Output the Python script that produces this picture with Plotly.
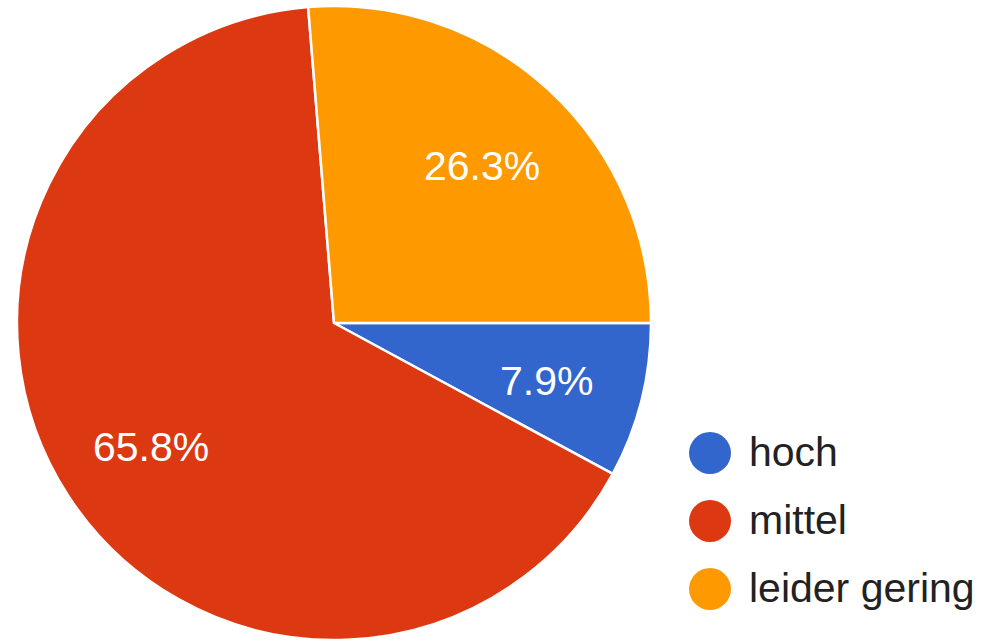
import math
import plotly.graph_objects as go

# Survey answer shares (percent)
categories = ["hoch", "mittel", "leider gering"]
shares = [7.9, 65.8, 26.3]
colors = ["#3366CC", "#DC3912", "#FF9900"]

W, H = 984, 643
CX, CY, R = 334, 323, 317          # pie centre and radius in pixels
START_DEG = 90                      # first slice starts at 3 o'clock
LABEL_FRAC = 0.69                   # radial position of the percentage labels
LABEL_DROP = 4                      # small downward nudge of the label text (px)
FONT = "Arial, Liberation Sans, Helvetica, sans-serif"

fig = go.Figure(
    go.Pie(
        labels=categories,
        values=shares,
        sort=False,
        direction="clockwise",
        rotation=START_DEG,
        marker=dict(colors=colors, line=dict(color="white", width=2.5)),
        textinfo="none",
        hoverinfo="label+percent",
        showlegend=False,
        domain=dict(
            x=[(CX - R) / W, (CX + R) / W],
            y=[1 - (CY + R) / H, 1 - (CY - R) / H],
        ),
    )
)

annotations = []
shapes = []

# Percentage labels placed at the middle angle of each slice
total = sum(shares)
acc = 0.0
for v in shares:
    mid = START_DEG + (acc + v / 2) / total * 360
    acc += v
    t = math.radians(mid)
    px = CX + LABEL_FRAC * R * math.sin(t)
    py = CY - LABEL_FRAC * R * math.cos(t) + LABEL_DROP
    annotations.append(dict(
        x=px / W, y=1 - py / H, xref="paper", yref="paper",
        text=f"{v / total * 100:.1f}%", showarrow=False,
        font=dict(family=FONT, size=41, color="white"),
        xanchor="center", yanchor="middle",
    ))

# Legend with round colour markers
LEG_X, LEG_Y0, LEG_DY, DOT_R = 710, 453, 68, 21
for i, (name, col) in enumerate(zip(categories, colors)):
    yc = LEG_Y0 + i * LEG_DY
    shapes.append(dict(
        type="circle", xref="paper", yref="paper",
        x0=(LEG_X - DOT_R) / W, x1=(LEG_X + DOT_R) / W,
        y0=1 - (yc + DOT_R) / H, y1=1 - (yc - DOT_R) / H,
        fillcolor=col, line=dict(width=0),
    ))
    annotations.append(dict(
        x=747 / W, y=1 - (yc - 1) / H, xref="paper", yref="paper",
        text=name, showarrow=False,
        font=dict(family=FONT, size=41, color="#222222"),
        xanchor="left", yanchor="middle",
    ))

fig.update_layout(
    width=W, height=H,
    margin=dict(l=0, r=0, t=0, b=0),
    paper_bgcolor="white", plot_bgcolor="white",
    annotations=annotations, shapes=shapes,
)

fig.write_html("out.html")
